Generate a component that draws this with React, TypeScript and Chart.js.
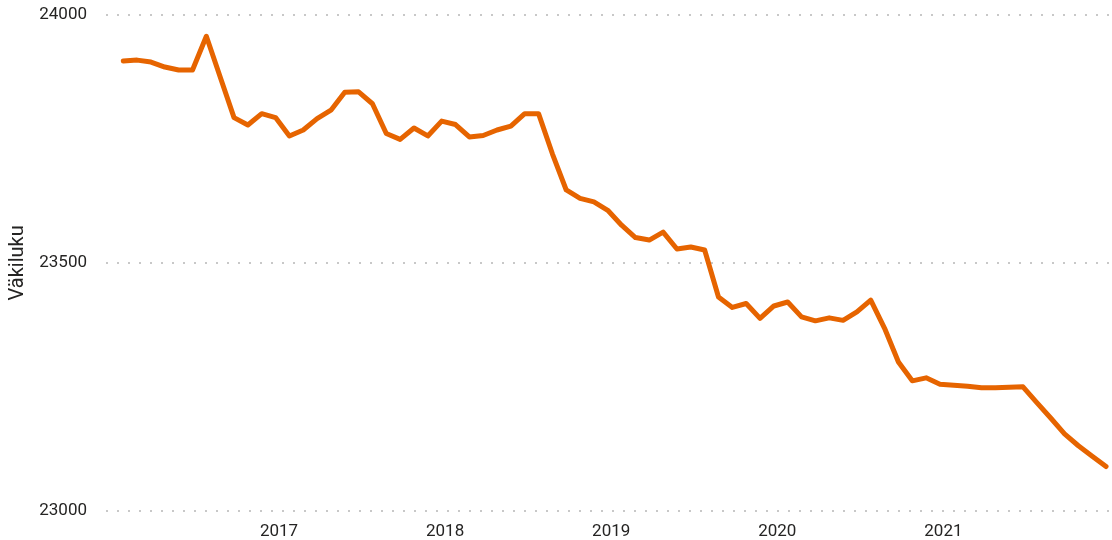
import { useEffect, useRef } from "react";
import { Chart, registerables } from "chart.js";

Chart.register(...registerables);

// Monthly population, Jan 2016 .. Dec 2021
const years = [2016, 2017, 2018, 2019, 2020, 2021];
const tickYears = [2017, 2018, 2019, 2020, 2021];
const population = [
  23907, 23909, 23905, 23895, 23889, 23889, 23957, 23875, 23793, 23778, 23801, 23793,
  23756, 23768, 23791, 23808, 23844, 23845, 23821, 23761, 23749, 23772, 23756, 23786,
  23779, 23754, 23757, 23768, 23776, 23801, 23801, 23720, 23647, 23630, 23623, 23606,
  23576, 23551, 23546, 23562, 23528, 23532, 23526, 23431, 23410, 23418, 23388, 23413,
  23421, 23391, 23383, 23389, 23384, 23401, 23425, 23368, 23300, 23262, 23268, 23255,
  23253, 23251, 23248, 23248, 23249, 23250, 23218, 23187, 23155, 23131, 23110, 23089,
];
const yTicks = [23000, 23500, 24000];
const yTitle = "Väkiluku";

const FONT = "Roboto, 'Noto Sans', sans-serif";

export default function App() {
  const ref = useRef<HTMLCanvasElement>(null);

  useEffect(() => {
    const startYear = years[0];
    // x measured in months since Jan 1 of the first year; points sit ~3/4 into each month
    const points = population.map((v, i) => ({ x: i + 0.75, y: v }));
    const chart = new Chart(ref.current!, {
      type: "line",
      data: {
        datasets: [
          {
            data: points,
            borderColor: "#E66400",
            backgroundColor: "#E66400",
            borderWidth: 5,
            pointRadius: 0,
            pointHoverRadius: 0,
            borderJoinStyle: "round",
            borderCapStyle: "round",
            tension: 0,
            fill: false,
          },
        ],
      },
      options: {
        animation: false,
        responsive: false,
        maintainAspectRatio: false,
        layout: { padding: { top: 15, right: 0, left: 0, bottom: 0 } },
        plugins: {
          legend: { display: false },
          tooltip: { enabled: false },
        },
        scales: {
          x: {
            type: "linear",
            min: -0.5,
            max: 72.18,
            grid: { display: false },
            border: { display: false },
            afterBuildTicks: (s: any) => {
              s.ticks = tickYears.map((y) => ({ value: (y - startYear) * 12 }));
            },
            afterFit: (s: any) => {
              s.height = 29.3;
              s.paddingLeft = 0;
              s.paddingRight = 0;
            },
            ticks: {
              autoSkip: false,
              maxRotation: 0,
              padding: 3,
              color: "#252423",
              font: { family: FONT, size: 17 },
              callback: (v: any) => String(startYear + Math.round(Number(v) / 12)),
            },
          },
          y: {
            type: "linear",
            min: yTicks[0],
            max: yTicks[yTicks.length - 1],
            afterBuildTicks: (s: any) => {
              s.ticks = yTicks.map((v) => ({ value: v }));
            },
            afterFit: (s: any) => {
              s.width = 106;
              s.paddingTop = 0;
              s.paddingBottom = 0;
            },
            grid: {
              color: "#c8c8c8",
              lineWidth: 2,
              drawTicks: false,
            },
            border: { display: false, dash: [2, 9] },
            ticks: {
              padding: 19,
              color: "#252423",
              font: { family: FONT, size: 17 },
              callback: (v: any) => String(v),
            },
            title: {
              display: true,
              text: yTitle,
              color: "#252423",
              font: { family: FONT, size: 20 },
              padding: { top: 6, bottom: 0 },
            },
          },
        },
      },
    });
    return () => chart.destroy();
  }, []);

  return (
    <div style={{ position: "absolute", left: 0, top: 0, width: 1112, height: 540 }}>
      <canvas ref={ref} width={1112} height={540} style={{ display: "block" }} />
    </div>
  );
}
